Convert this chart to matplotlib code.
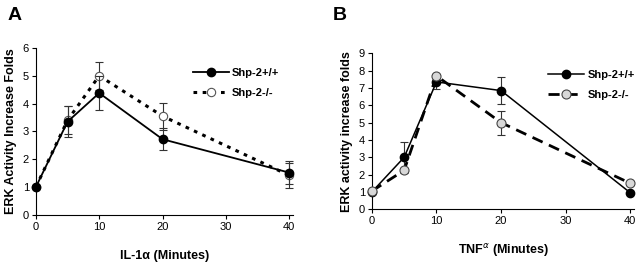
import matplotlib
matplotlib.use("Agg")
import matplotlib.pyplot as plt

plt.rcParams['font.family'] = ['Liberation Sans', 'DejaVu Sans']

# Panel A data
time_a = [0, 5, 10, 20, 40]
wt_a = [1.0, 3.35, 4.38, 2.72, 1.52]
wt_a_err = [0.0, 0.55, 0.6, 0.4, 0.42]
ko_a = [1.0, 3.4, 5.0, 3.55, 1.42]
ko_a_err = [0.0, 0.5, 0.5, 0.48, 0.45]

# Panel B data
time_b = [0, 5, 10, 20, 40]
wt_b = [1.0, 3.0, 7.35, 6.85, 0.95]
wt_b_err = [0.0, 0.9, 0.4, 0.8, 0.0]
ko_b = [1.05, 2.25, 7.7, 5.0, 1.5]
ko_b_err = [0.0, 0.0, 0.0, 0.7, 0.0]

xticks = [0, 10, 20, 30, 40]
labels = ['Shp-2+/+', 'Shp-2-/-']

fig = plt.figure(figsize=(6.4, 2.68), dpi=100)
axA = fig.add_axes([0.056, 0.198, 0.402, 0.623])
axB = fig.add_axes([0.581, 0.219, 0.41, 0.582])

def style(ax, ymax):
    ax.spines['top'].set_visible(False)
    ax.spines['right'].set_visible(False)
    ax.set_xlim(0, 40.6)
    ax.set_ylim(0, ymax)
    ax.set_xticks(xticks)
    ax.set_yticks(range(0, ymax + 1))
    ax.tick_params(direction='out', length=3, width=0.8, labelsize=8, pad=2)
    ax.spines['left'].set_linewidth(0.8)
    ax.spines['bottom'].set_linewidth(0.8)

def unclip(container):
    for art in container.get_children():
        art.set_clip_on(False)

# Panel A
ebA_ko = axA.errorbar(time_a, ko_a, yerr=ko_a_err, color='black', ls=(0, (1.2, 1.8)), lw=2.2,
             marker='o', ms=6, mfc='white', mec='#555555', mew=0.8,
             ecolor='#333333', elinewidth=0.8, capsize=3, capthick=0.8,
             label=labels[1], zorder=2)
ebA_wt = axA.errorbar(time_a, wt_a, yerr=wt_a_err, color='black', ls='-', lw=1.3,
             marker='o', ms=6, mfc='black', mec='black',
             ecolor='#333333', elinewidth=0.8, capsize=3, capthick=0.8,
             label=labels[0], zorder=3)
unclip(ebA_ko); unclip(ebA_wt)
style(axA, 6)
axA.set_ylabel('ERK Activity Increase Folds', fontsize=9, fontweight='bold', labelpad=4)
axA.set_xlabel('IL-1\u03b1 (Minutes)', fontsize=9, fontweight='bold', labelpad=13)
axA.legend([ebA_wt[0], ebA_ko[0]], labels, loc='upper right', bbox_to_anchor=(0.985, 0.94),
           frameon=False, handlelength=3.2, handletextpad=0.3, labelspacing=0.9,
           prop={'weight': 'bold', 'size': 8})
fig.text(0.012, 0.975, 'A', fontsize=14, fontweight='bold', va='top', ha='left')

# Panel B
ebB_wt = axB.errorbar(time_b, wt_b, yerr=wt_b_err, color='black', ls='-', lw=1.1,
             marker='o', ms=6, mfc='black', mec='black',
             ecolor='#333333', elinewidth=0.8, capsize=3, capthick=0.8,
             label=labels[0], zorder=3)
ebB_ko = axB.errorbar(time_b, ko_b, yerr=ko_b_err, color='black', ls=(0, (4, 2.5)), lw=2.0,
             marker='o', ms=6.5, mfc='#d8d8d8', mec='#444444', mew=0.8,
             ecolor='#333333', elinewidth=0.8, capsize=3, capthick=0.8,
             label=labels[1], zorder=4)
unclip(ebB_ko); unclip(ebB_wt)
style(axB, 9)
axB.set_ylabel('ERK activity increase folds', fontsize=9, fontweight='bold', labelpad=4)
axB.set_xlabel('TNF$^{\\alpha}$ (Minutes)', fontsize=9, fontweight='bold', labelpad=11)
axB.legend([ebB_wt[0], ebB_ko[0]], labels, loc='upper right', bbox_to_anchor=(1.04, 0.96),
           frameon=False, handlelength=3.2, handletextpad=0.3, labelspacing=0.9,
           prop={'weight': 'bold', 'size': 8})
fig.text(0.52, 0.975, 'B', fontsize=14, fontweight='bold', va='top', ha='left')

fig.savefig('out.png', dpi=100)
